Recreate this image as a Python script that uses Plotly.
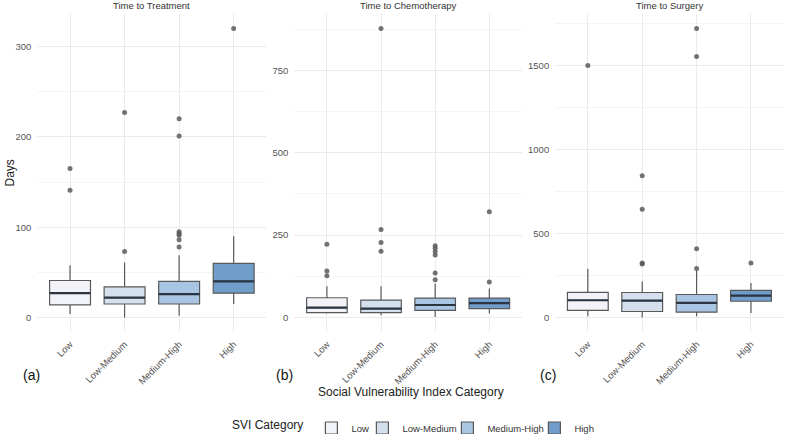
import plotly.graph_objects as go

# ---------------- data ----------------
categories = ["Low", "Low-Medium", "Medium-High", "High"]
panel_titles = ["Time to Treatment", "Time to Chemotherapy", "Time to Surgery"]
panel_tags = ["(a)", "(b)", "(c)"]

# Time to Treatment
treat_q1 = [14, 15, 15, 27]
treat_median = [27, 22, 26, 40]
treat_q3 = [41, 34, 40, 60]
treat_lower = [4, 0, 2, 15]
treat_upper = [58, 61, 69, 90]
treat_outliers = [[141, 165], [73, 227], [78, 86, 91, 93, 95, 201, 220], [320]]

# Time to Chemotherapy
chemo_q1 = [15, 15, 22, 27]
chemo_median = [30, 27, 38, 44]
chemo_q3 = [60, 53, 59, 59]
chemo_lower = [12, 7, 2, 12]
chemo_upper = [95, 95, 103, 88]
chemo_outliers = [[127, 141, 222], [201, 228, 267, 877], [115, 135, 190, 200, 210, 218], [108, 321]]

# Time to Surgery
surg_q1 = [43, 36, 32, 97]
surg_median = [103, 101, 87, 131]
surg_q3 = [150, 149, 137, 162]
surg_lower = [8, 2, 8, 27]
surg_upper = [291, 214, 282, 206]
surg_outliers = [[1500], [318, 325, 645, 843], [292, 410, 1553, 1720], [325]]

y_ticks = [[0, 100, 200, 300], [0, 250, 500, 750], [0, 500, 1000, 1500]]

# ---------------- style ----------------
fill_colors = ["#f1f3f9", "#d4e0ee", "#a8c5e2", "#709dca"]
legend_entry_widths = [6, 40, 42, 20]
W, H = 785, 434
FONT = "Liberation Sans, Arial, sans-serif"
x_domains_px = [(37.3, 266.4), (294.4, 521.8), (555.2, 783.6)]
box_width = 0.75
PLOT_TOP, PLOT_BOTTOM = 14, 332
PLOT_H = PLOT_BOTTOM - PLOT_TOP


def py(pixel_y):
    return (PLOT_BOTTOM - pixel_y) / PLOT_H


panels = [
    (treat_q1, treat_median, treat_q3, treat_lower, treat_upper, treat_outliers),
    (chemo_q1, chemo_median, chemo_q3, chemo_lower, chemo_upper, chemo_outliers),
    (surg_q1, surg_median, surg_q3, surg_lower, surg_upper, surg_outliers),
]

fig = go.Figure()

for p, (q1, med, q3, lo, hi, outs) in enumerate(panels):
    xa = "x" if p == 0 else f"x{p+1}"
    ya = "y" if p == 0 else f"y{p+1}"
    for i, cat in enumerate(categories):
        fig.add_trace(go.Box(
            x=[i], q1=[q1[i]], median=[med[i]], q3=[q3[i]],
            lowerfence=[lo[i]], upperfence=[hi[i]],
            width=box_width, whiskerwidth=0,
            fillcolor=fill_colors[i],
            line=dict(color="#595959", width=1.2),
            boxpoints=False, name=cat, legendgroup=cat,
            legendwidth=legend_entry_widths[i],
            showlegend=(p == 0), xaxis=xa, yaxis=ya, hoverinfo="skip",
        ))
        # thick dark median bar (degenerate box at the median)
        fig.add_trace(go.Box(
            x=[i], q1=[med[i]], median=[med[i]], q3=[med[i]],
            lowerfence=[med[i]], upperfence=[med[i]],
            width=box_width, whiskerwidth=0,
            fillcolor="rgba(0,0,0,0)",
            line=dict(color="#2b3542", width=2.2),
            boxpoints=False, showlegend=False, legendgroup=cat,
            xaxis=xa, yaxis=ya, hoverinfo="skip",
        ))
        if outs[i]:
            fig.add_trace(go.Scatter(
                x=[i] * len(outs[i]), y=outs[i], mode="markers",
                marker=dict(color="rgba(90,90,90,0.85)", size=5),
                showlegend=False, xaxis=xa, yaxis=ya, hoverinfo="skip",
            ))

layout = dict(
    width=W, height=H,
    margin=dict(l=0, r=0, t=PLOT_TOP, b=H - PLOT_BOTTOM, autoexpand=False),
    paper_bgcolor="white", plot_bgcolor="white",
    boxmode="overlay",
    font=dict(family=FONT, color="#333"),
    legend=dict(
        orientation="h", x=415 / W, xanchor="center",
        y=py(428), yanchor="middle", valign="middle",
        title=dict(text="SVI Category", side="left", font=dict(size=12, color="#222")),
        font=dict(size=9.5, color="#333"),
        itemwidth=30, tracegroupgap=0,
    ),
)

annotations = []
for p in range(3):
    suffix = "" if p == 0 else str(p + 1)
    top = max(max(o) if o else 0 for o in panels[p][5])
    top = max(top, max(panels[p][4]))
    pad = 0.05 * top
    d0, d1 = x_domains_px[p]
    layout["xaxis" + suffix] = dict(
        domain=[d0 / W, d1 / W], range=[-0.6, 3.6],
        tickmode="array", tickvals=list(range(4)), ticktext=categories,
        tickangle=-45, showgrid=True, gridcolor="#ebebeb", gridwidth=1,
        zeroline=False, showline=False, ticks="",
        ticklabelstandoff=4,
        tickfont=dict(size=9.5, color="#555", family=FONT),
        anchor="y" + suffix, fixedrange=True,
    )
    dt = y_ticks[p][1] - y_ticks[p][0]
    layout["yaxis" + suffix] = dict(
        domain=[0, 1], range=[-pad, top + pad],
        tickmode="array", tickvals=y_ticks[p],
        showgrid=True, gridcolor="#ebebeb", gridwidth=1,
        minor=dict(dtick=dt / 2, tick0=0, showgrid=True, gridcolor="#f5f5f5", gridwidth=0.7),
        zeroline=False, showline=False, ticks="",
        ticklabelstandoff=5,
        tickfont=dict(size=9.5, color="#555", family=FONT),
        anchor="x" + suffix, fixedrange=True,
    )
    annotations.append(dict(
        text=panel_titles[p], xref="paper", yref="paper",
        x=(d0 + d1) / 2 / W, y=py(5.5), xanchor="center", yanchor="middle",
        showarrow=False, font=dict(size=9.5, color="#333", family=FONT),
    ))
    annotations.append(dict(
        text=panel_tags[p], xref="paper", yref="paper",
        x=[31.5, 284.5, 547.5][p] / W, y=py(374.5),
        xanchor="center", yanchor="middle", showarrow=False,
        font=dict(size=14, color="#111", family=FONT),
    ))

annotations.append(dict(
    text="Days", xref="paper", yref="paper", x=10 / W, y=py(173.5),
    xanchor="center", yanchor="middle", textangle=-90, showarrow=False,
    font=dict(size=12, color="#222", family=FONT),
))
annotations.append(dict(
    text="Social Vulnerability Index Category", xref="paper", yref="paper",
    x=410.5 / W, y=py(391.7), xanchor="center", yanchor="middle",
    showarrow=False, font=dict(size=12, color="#222", family=FONT),
))
layout["annotations"] = annotations

fig.update_layout(**layout)
fig.write_html("out.html")
